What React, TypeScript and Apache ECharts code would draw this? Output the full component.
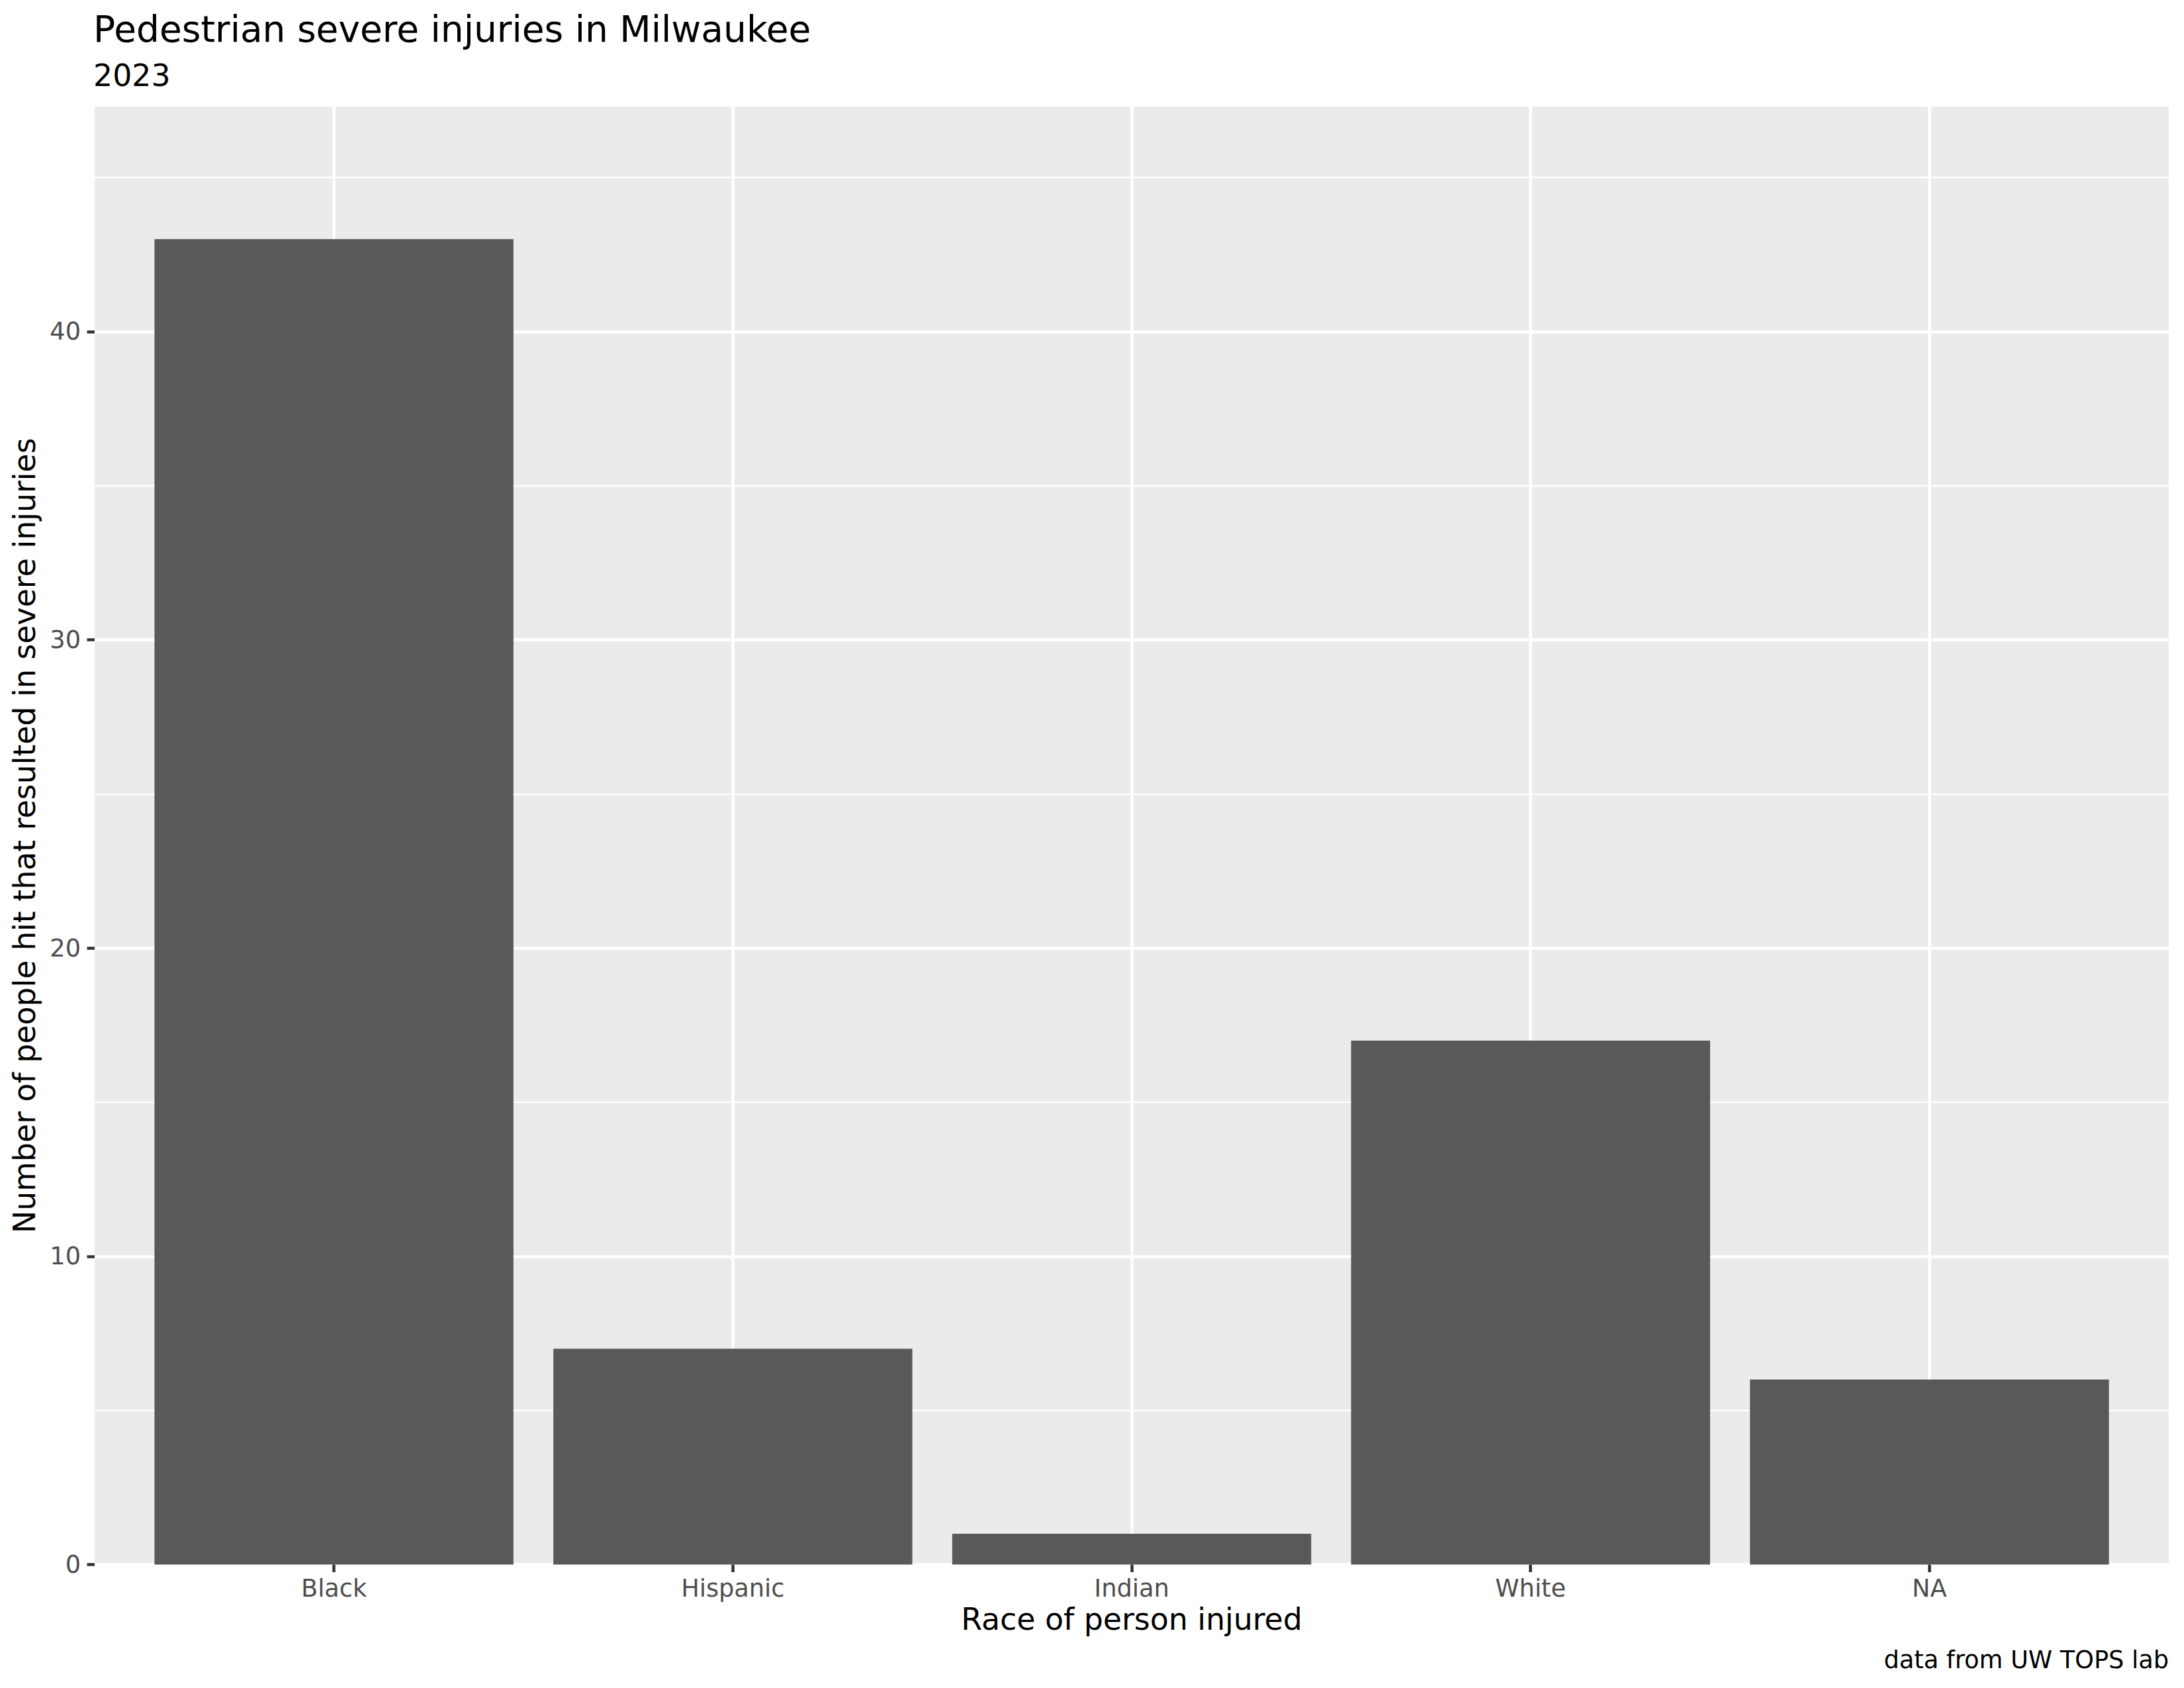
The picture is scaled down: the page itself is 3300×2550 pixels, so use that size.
import React, { useEffect, useRef } from "react";
import * as echarts from "echarts";

const categories = ["Black", "Hispanic", "Indian", "White", "NA"];
const injuries = [43, 7, 1, 17, 6];
const yMajorTicks = [0, 10, 20, 30, 40];
const yMinorTicks = [5, 15, 25, 35, 45];
const titleText = "Pedestrian severe injuries in Milwaukee";
const subtitleText = "2023";
const xTitle = "Race of person injured";
const yTitle = "Number of people hit that resulted in severe injuries";
const captionText = "data from UW TOPS lab";

const FONT = "DejaVu Sans";

export default function App() {
  const ref = useRef<HTMLDivElement>(null);

  useEffect(() => {
    document.body.style.margin = "0";
    const chart = echarts.init(ref.current as HTMLDivElement, null, { renderer: "svg" });

    const pL = 143;
    const pR = 3277;
    const pT = 161;
    const pB = 2363.5;
    const yMax = Math.max(...injuries) * 1.1;
    const xPositions = categories.map((_, i) => i + 1);

    const tickLine = { color: "#333333", width: 4.5 };
    const labelStyle = { color: "#4D4D4D", fontSize: 36.7, fontFamily: FONT };

    chart.setOption({
      animation: false,
      backgroundColor: "#FFFFFF",
      textStyle: { fontFamily: FONT },
      grid: {
        left: pL,
        top: pT,
        width: pR - pL,
        height: pB - pT,
        show: true,
        backgroundColor: "#EBEBEB",
        borderWidth: 0,
        containLabel: false,
        outerBoundsMode: "none",
      },
      xAxis: {
        type: "value",
        min: 0.4,
        max: categories.length + 0.6,
        axisLine: { show: false },
        axisTick: { show: true, length: 11.5, lineStyle: tickLine, customValues: xPositions },
        axisLabel: {
          ...labelStyle,
          customValues: xPositions,
          formatter: (v: number) => categories[Math.round(v) - 1] ?? "",
          margin: 36,
          verticalAlign: "middle",
        },
        splitLine: { show: true, lineStyle: { color: "#FFFFFF", width: 4.5 } },
      },
      yAxis: [
        {
          type: "value",
          min: 0,
          max: yMax,
          position: "left",
          axisLine: { show: false },
          axisTick: { show: true, length: 11.5, lineStyle: tickLine, customValues: yMajorTicks },
          axisLabel: { ...labelStyle, customValues: yMajorTicks, margin: 21 },
          splitLine: { show: true, lineStyle: { color: "#FFFFFF", width: 4.5 } },
        },
        {
          type: "value",
          min: 0,
          max: yMax,
          position: "left",
          axisLine: { show: false },
          axisTick: { show: false, customValues: yMinorTicks },
          axisLabel: { show: false, customValues: yMinorTicks },
          splitLine: { show: true, lineStyle: { color: "#FFFFFF", width: 2.3 } },
        },
      ],
      series: [
        {
          type: "bar",
          yAxisIndex: 0,
          data: categories.map((_, i) => [i + 1, injuries[i]]),
          barWidth: "90%",
          itemStyle: { color: "#595959" },
          z: 3,
        },
      ],
      graphic: [
        {
          type: "text",
          x: 141,
          y: 43.5,
          style: { text: titleText, fontSize: 55, fontFamily: FONT, fill: "#000000", align: "left", verticalAlign: "middle" },
        },
        {
          type: "text",
          x: 141,
          y: 113.5,
          style: { text: subtitleText, fontSize: 45.8, fontFamily: FONT, fill: "#000000", align: "left", verticalAlign: "middle" },
        },
        {
          type: "text",
          x: (pL + pR) / 2,
          y: 2445.5,
          style: { text: xTitle, fontSize: 45.8, fontFamily: FONT, fill: "#000000", align: "center", verticalAlign: "middle" },
        },
        {
          type: "text",
          x: 37,
          y: (pT + pB) / 2,
          rotation: Math.PI / 2,
          style: { text: yTitle, fontSize: 45.8, fontFamily: FONT, fill: "#000000", align: "center", verticalAlign: "middle" },
        },
        {
          type: "text",
          x: pR,
          y: 2507.5,
          style: { text: captionText, fontSize: 36.7, fontFamily: FONT, fill: "#000000", align: "right", verticalAlign: "middle" },
        },
      ],
    });

    return () => {
      chart.dispose();
    };
  }, []);

  return <div ref={ref} style={{ width: 3300, height: 2550 }} />;
}
